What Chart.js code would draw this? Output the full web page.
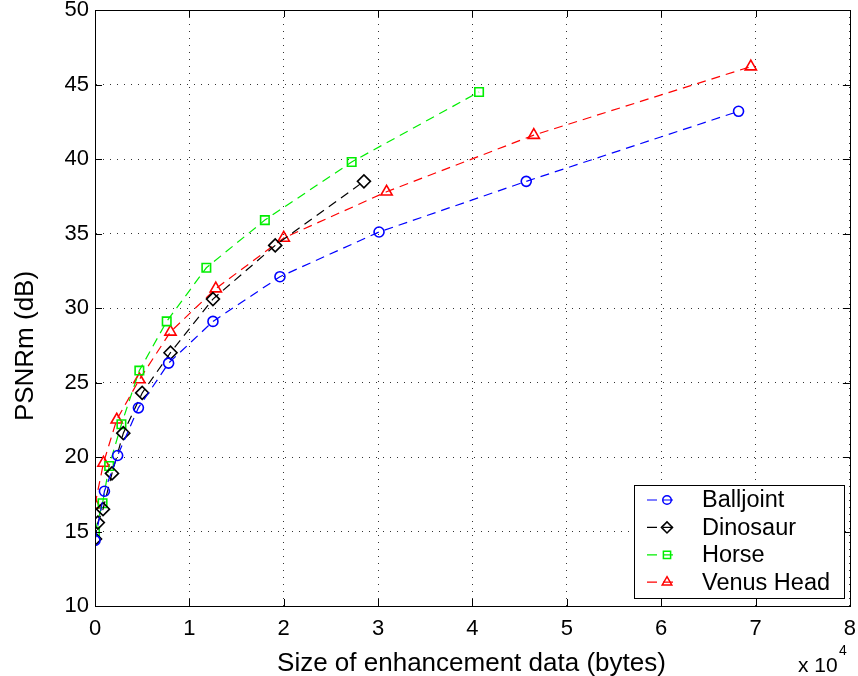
<!DOCTYPE html>
<html>
<head>
<meta charset="utf-8">
<script src="https://cdn.jsdelivr.net/npm/chart.js@4/dist/chart.umd.min.js"></script>
<style>
  html, body { margin: 0; padding: 0; background: #fff; }
  #wrap { width: 858px; height: 676px; }
</style>
</head>
<body>
<div id="wrap"><canvas id="c" width="858" height="676"></canvas></div>
<script>
// ---- data (x in units of 10^4 bytes, y in dB) ----
const seriesLabels = ['Balljoint', 'Dinosaur', 'Horse', 'Venus Head'];
const balljointX = [0, 0.10, 0.24, 0.46, 0.78, 1.25, 1.96, 3.01, 4.57, 6.82];
const balljointY = [14.4, 17.7, 20.1, 23.3, 26.3, 29.1, 32.1, 35.1, 38.5, 43.2];
const dinosaurX  = [0, 0.03, 0.085, 0.18, 0.30, 0.50, 0.80, 1.25, 1.91, 2.85];
const dinosaurY  = [14.5, 15.6, 16.5, 18.9, 21.6, 24.3, 27.0, 30.6, 34.2, 38.5];
const horseX     = [0, 0.08, 0.15, 0.28, 0.47, 0.76, 1.18, 1.80, 2.72, 4.07];
const horseY     = [15.0, 16.9, 19.4, 22.2, 25.8, 29.1, 32.7, 35.9, 39.8, 44.5];
const venusX     = [0, 0.09, 0.23, 0.47, 0.80, 1.28, 2.00, 3.09, 4.65, 6.95];
const venusY     = [16.8, 19.6, 22.5, 25.2, 28.4, 31.3, 34.7, 37.8, 41.6, 46.2];
const xTickValues = [0, 1, 2, 3, 4, 5, 6, 7, 8];
const yTickValues = [10, 15, 20, 25, 30, 35, 40, 45, 50];
const xAxisTitle = 'Size of enhancement data (bytes)';
const yAxisTitle = 'PSNRm (dB)';
const xExponentBase = 'x 10';
const xExponent = '4';

// ---- styling ----
const FONT = "'Liberation Sans', Arial, Helvetica, sans-serif";
const styles = [
  { color: '#0000ff', pointStyle: 'circle',   radius: 5 },
  { color: '#000000', pointStyle: 'rectRot',  radius: 6.5 },
  { color: '#00ee00', pointStyle: 'rect',     radius: 6 },
  { color: '#ff0000', pointStyle: 'triangle', radius: 6.5 }
];
const xs = [balljointX, dinosaurX, horseX, venusX];
const ys = [balljointY, dinosaurY, horseY, venusY];

const datasets = seriesLabels.map((label, i) => ({
  label,
  data: xs[i].map((x, j) => ({ x, y: ys[i][j] })),
  showLine: true,
  borderColor: styles[i].color,
  borderWidth: 1.2,
  borderDash: [9, 6],
  pointStyle: styles[i].pointStyle,
  pointRadius: styles[i].radius,
  pointBorderWidth: 1.6,
  pointBorderColor: styles[i].color,
  pointBackgroundColor: 'rgba(0,0,0,0)',
  fill: false,
  tension: 0
}));

function drawMarker(ctx, style, r, x, y, color) {
  ctx.save();
  ctx.strokeStyle = color;
  ctx.fillStyle = 'rgba(0,0,0,0)';
  ctx.lineWidth = 1.5;
  ctx.setLineDash([]);
  if (Chart.helpers && Chart.helpers.drawPoint) {
    Chart.helpers.drawPoint(ctx, { pointStyle: style, rotation: 0, radius: r, borderWidth: 1.5 }, x, y);
  }
  ctx.restore();
}

const decorPlugin = {
  id: 'decor',
  afterDraw(chart) {
    const { ctx, chartArea: a, scales } = chart;
    ctx.save();
    // solid box
    ctx.strokeStyle = '#000';
    ctx.lineWidth = 1;
    ctx.setLineDash([]);
    ctx.strokeRect(Math.round(a.left) + 0.5, Math.round(a.top) + 0.5,
                   Math.round(a.right - a.left), Math.round(a.bottom - a.top));
    // inward ticks on all sides
    const tl = 7;
    ctx.beginPath();
    xTickValues.forEach(v => {
      const px = Math.round(scales.x.getPixelForValue(v)) + 0.5;
      ctx.moveTo(px, a.bottom); ctx.lineTo(px, a.bottom - tl);
      ctx.moveTo(px, a.top); ctx.lineTo(px, a.top + tl);
    });
    yTickValues.forEach(v => {
      const py = Math.round(scales.y.getPixelForValue(v)) + 0.5;
      ctx.moveTo(a.left, py); ctx.lineTo(a.left + tl, py);
      ctx.moveTo(a.right, py); ctx.lineTo(a.right - tl, py);
    });
    ctx.stroke();

    // axis titles
    ctx.fillStyle = '#000';
    ctx.font = '26px ' + FONT;
    ctx.textAlign = 'center';
    ctx.textBaseline = 'alphabetic';
    ctx.fillText(xAxisTitle, (a.left + a.right) / 2 - 1, 671);
    ctx.save();
    ctx.translate(33, 346);
    ctx.rotate(-Math.PI / 2);
    ctx.fillText(yAxisTitle, 0, 0);
    ctx.restore();

    // exponent label
    ctx.textAlign = 'left';
    ctx.font = '21px ' + FONT;
    ctx.fillText(xExponentBase, 798, 672);
    ctx.font = '14px ' + FONT;
    ctx.fillText(xExponent, 839, 655);

    // legend
    const lx = 634, ly = 485, lw = 210, lh = 113;
    ctx.fillStyle = '#fff';
    ctx.fillRect(lx, ly, lw, lh);
    ctx.strokeStyle = '#000';
    ctx.lineWidth = 1;
    ctx.strokeRect(lx + 0.5, ly + 0.5, lw, lh);
    ctx.font = '23.5px ' + FONT;
    ctx.textBaseline = 'middle';
    ctx.textAlign = 'left';
    chart.data.datasets.forEach((ds, i) => {
      const cy = 500 + i * 27.4;
      ctx.strokeStyle = ds.borderColor;
      ctx.lineWidth = 1.2;
      ctx.setLineDash([10, 6]);
      ctx.beginPath();
      ctx.moveTo(647, cy); ctx.lineTo(679, cy);
      ctx.stroke();
      ctx.setLineDash([]);
      drawMarker(ctx, ds.pointStyle, ds.pointRadius * 0.85, 667, cy, ds.borderColor);
      ctx.fillStyle = '#000';
      ctx.fillText(ds.label, 702, cy + 1);
    });
    ctx.restore();
  }
};

new Chart(document.getElementById('c'), {
  type: 'scatter',
  data: { datasets },
  options: {
    responsive: false,
    animation: false,
    devicePixelRatio: 1,
    layout: { padding: { left: 0, top: 10, right: 5, bottom: 0 } },
    plugins: { legend: { display: false }, tooltip: { enabled: false } },
    scales: {
      x: {
        type: 'linear', min: 0, max: 8,
        afterBuildTicks: s => { s.ticks = xTickValues.map(v => ({ value: v })); },
        afterFit: s => { s.height = 70; s.paddingLeft = 0; s.paddingRight = 0; },
        grid: { color: '#333', lineWidth: 1, drawTicks: false },
        border: { display: true, color: '#000', width: 1, dash: [1, 6] },
        ticks: { color: '#000', padding: 10, font: { family: FONT, size: 22 }, maxRotation: 0,
                 callback: v => String(v) }
      },
      y: {
        type: 'linear', min: 10, max: 50,
        afterBuildTicks: s => { s.ticks = yTickValues.map(v => ({ value: v })); },
        afterFit: s => { s.width = 95; s.paddingTop = 0; s.paddingBottom = 0; },
        grid: { color: '#333', lineWidth: 1, drawTicks: false },
        border: { display: true, color: '#000', width: 1, dash: [1, 6] },
        ticks: { color: '#000', padding: 6, font: { family: FONT, size: 22 },
                 callback: v => String(v) }
      }
    }
  },
  plugins: [decorPlugin]
});
</script>
</body>
</html>
